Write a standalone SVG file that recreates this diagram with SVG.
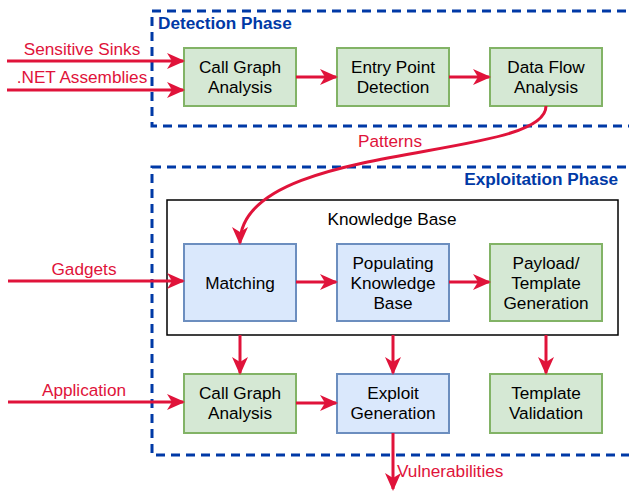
<svg xmlns="http://www.w3.org/2000/svg" width="629" height="491" viewBox="0 0 629 491">
<style>
text{font-family:"Liberation Sans",Arial,sans-serif;font-size:17.2px;}
.n text{fill:#000;text-anchor:middle;}
.g{fill:#d5e8d4;stroke:#82b366;stroke-width:2;}
.b{fill:#dae8fc;stroke:#6c8ebf;stroke-width:2;}
.phase{fill:none;stroke:#0039A6;stroke-width:3;stroke-dasharray:9 6;}
.pt{fill:#0039A6;font-weight:bold;}
.lbl{fill:#E0133A;}
.c path{fill:none;stroke:#E0133A;stroke-width:3;marker-end:url(#ah);}
</style>
<defs>
<marker id="ah" viewBox="0 0 18 18" refX="16" refY="9" markerWidth="18" markerHeight="18" markerUnits="userSpaceOnUse" orient="auto">
<path d="M0,1 L18,9 L0,17 L5,9 Z" fill="#E0133A"/>
</marker>
</defs>
<rect width="629" height="491" fill="#fff"/>
<g id="detection-phase">
<rect class="phase" x="152" y="11" width="500" height="115"/>
<text class="pt" x="158" y="29">Detection Phase</text>
</g>
<g id="exploitation-phase">
<rect class="phase" x="152" y="167" width="500" height="288"/>
<text class="pt" x="618" y="185" text-anchor="end">Exploitation Phase</text>
</g>
<g id="knowledge-base">
<rect x="167" y="200" width="451" height="135" fill="none" stroke="#000" stroke-width="1.5"/>
<text x="392" y="225" text-anchor="middle">Knowledge Base</text>
</g>
<g id="call-graph-1" class="n"><rect class="g" x="184" y="48" width="112" height="58"/><text x="240" y="73">Call Graph</text><text x="240" y="93">Analysis</text></g>
<g id="entry-point" class="n"><rect class="g" x="337" y="48" width="112" height="58"/><text x="393" y="73">Entry Point</text><text x="393" y="93">Detection</text></g>
<g id="data-flow" class="n"><rect class="g" x="490" y="48" width="112" height="58"/><text x="546" y="73">Data Flow</text><text x="546" y="93">Analysis</text></g>
<g id="matching" class="n"><rect class="b" x="184" y="244" width="112" height="77"/><text x="240" y="289">Matching</text></g>
<g id="populating" class="n"><rect class="b" x="337" y="244" width="112" height="77"/><text x="393" y="269">Populating</text><text x="393" y="289">Knowledge</text><text x="393" y="309">Base</text></g>
<g id="payload" class="n"><rect class="g" x="490" y="244" width="112" height="77"/><text x="546" y="269">Payload/</text><text x="546" y="289">Template</text><text x="546" y="309">Generation</text></g>
<g id="call-graph-2" class="n"><rect class="g" x="184" y="374" width="112" height="59"/><text x="240" y="399">Call Graph</text><text x="240" y="419">Analysis</text></g>
<g id="exploit" class="n"><rect class="b" x="337" y="374" width="112" height="59"/><text x="393" y="399">Exploit</text><text x="393" y="419">Generation</text></g>
<g id="template-validation" class="n"><rect class="g" x="490" y="374" width="112" height="59"/><text x="546" y="399">Template</text><text x="546" y="419">Validation</text></g>
<g id="connectors" class="c">
<path d="M7,61 H183"/>
<path d="M7,90 H183"/>
<path d="M296,77 H336"/>
<path d="M449,77 H489"/>
<path d="M546,106 C546,162 240,140 240,243"/>
<path d="M8,281 H183"/>
<path d="M296,282 H336"/>
<path d="M449,282 H489"/>
<path d="M240,335 V373"/>
<path d="M393,335 V373"/>
<path d="M546,335 V373"/>
<path d="M8,402 H183"/>
<path d="M296,403 H336"/>
<path d="M393,433 V489"/>
</g>
<g id="labels">
<text class="lbl" x="82" y="55" text-anchor="middle">Sensitive Sinks</text>
<text class="lbl" x="82" y="83" text-anchor="middle">.NET Assemblies</text>
<text class="lbl" x="390" y="147" text-anchor="middle">Patterns</text>
<text class="lbl" x="84" y="275" text-anchor="middle">Gadgets</text>
<text class="lbl" x="84" y="396" text-anchor="middle">Application</text>
<text class="lbl" x="397" y="477">Vulnerabilities</text>
</g>
</svg>
